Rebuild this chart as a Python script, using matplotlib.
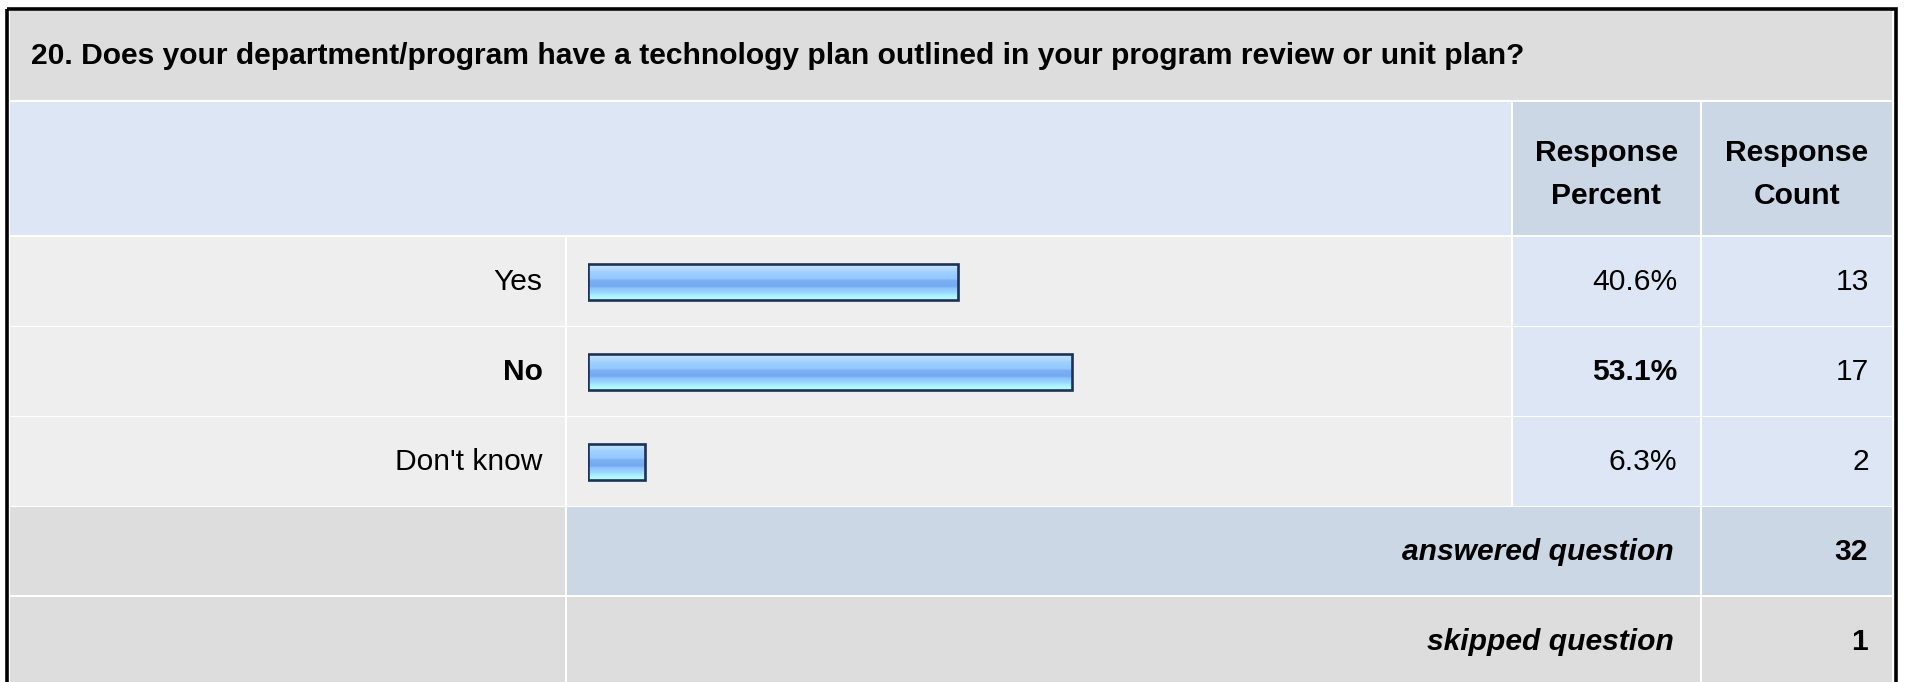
import numpy as np
import matplotlib
matplotlib.use("Agg")
import matplotlib.pyplot as plt
from matplotlib.patches import Rectangle
from matplotlib.colors import LinearSegmentedColormap

# ---------------- data ----------------
question = "20. Does your department/program have a technology plan outlined in your program review or unit plan?"
categories = ["Yes", "No", "Don't know"]
percents = [40.6, 53.1, 6.3]
counts = [13, 17, 2]
answered = 32
skipped = 1
header_pct = "Response\nPercent"
header_cnt = "Response\nCount"

# ---------------- layout (pixels) ----------------
W, H = 1907, 682
DPI = 100
FONT = "Liberation Sans"
FS = 21.6
FS_TITLE = 21.6

fig = plt.figure(figsize=(W / DPI, H / DPI), dpi=DPI)
ax = fig.add_axes([0, 0, 1, 1])
ax.set_xlim(0, W)
ax.set_ylim(H, 0)
ax.axis("off")

GREY = "#dddddd"
LIGHT = "#eeeeee"
BLUE = "#dce6f4"
BLUE2 = "#cbd7e5"

def cell(x0, x1, y0, y1, color):
    ax.add_patch(Rectangle((x0, y0), x1 - x0, y1 - y0, facecolor=color,
                           edgecolor="none", zorder=1))

# columns
L0, L1 = 10, 564.5
B0, B1 = 567, 1510.5
P0, P1 = 1513, 1699.5
C0, C1 = 1702, 1892
# rows
title_r = (11, 100)
head_r = (102, 235)
row_tops = [237, 327, 417]
row_h = 88.5
ans_r = (507, 595)
skip_r = (597, 690)

# outer border
ax.add_patch(Rectangle((7, 8.5), 1888.5, 700, facecolor="none",
                       edgecolor="black", linewidth=2.6, zorder=5))

cell(L0, C1, *title_r, GREY)
ax.text(31, sum(title_r) / 2 + 1, question, fontsize=FS_TITLE, fontweight="bold",
        family=FONT, ha="left", va="center", zorder=3)

cell(L0, B1, *head_r, BLUE)
cell(P0, P1, *head_r, BLUE2)
cell(C0, C1, *head_r, BLUE2)
for (x0, x1), txt in (((P0, P1), header_pct), ((C0, C1), header_cnt)):
    ax.text((x0 + x1) / 2, sum(head_r) / 2 + 6, txt, fontsize=FS, fontweight="bold",
            family=FONT, ha="center", va="center", linespacing=1.72, zorder=3)

imax = int(np.argmax(percents))
for i, (cat, p, c) in enumerate(zip(categories, percents, counts)):
    y0 = row_tops[i]
    y1 = y0 + row_h
    ym = (y0 + y1) / 2 + 1
    cell(L0, L1, y0, y1, LIGHT)
    cell(B0, B1, y0, y1, LIGHT)
    cell(P0, P1, y0, y1, BLUE)
    cell(C0, C1, y0, y1, BLUE)
    w = "bold" if i == imax else "normal"
    ax.text(L1 - 22, ym, cat, fontsize=FS, fontweight=w, family=FONT,
            ha="right", va="center", zorder=3)
    ax.text(P1 - 22, ym, f"{p:.1f}%", fontsize=FS, fontweight=w, family=FONT,
            ha="right", va="center", zorder=3)
    ax.text(C1 - 23, ym, f"{c}", fontsize=FS, family=FONT,
            ha="right", va="center", zorder=3)

cell(L0, L1, *ans_r, GREY)
cell(B0, P1, *ans_r, BLUE2)
cell(C0, C1, *ans_r, BLUE2)
ax.text(P1 - 26, sum(ans_r) / 2 + 1, "answered question", fontsize=FS, fontweight="bold",
        style="italic", family=FONT, ha="right", va="center", zorder=3)
ax.text(C1 - 24, sum(ans_r) / 2 + 1, f"{answered}", fontsize=FS, fontweight="bold",
        family=FONT, ha="right", va="center", zorder=3)

cell(L0, L1, *skip_r, GREY)
cell(B0, P1, *skip_r, GREY)
cell(C0, C1, *skip_r, GREY)
ax.text(P1 - 26, (skip_r[0] + 682) / 2 + 2, "skipped question", fontsize=FS, fontweight="bold",
        style="italic", family=FONT, ha="right", va="center", zorder=3)
ax.text(C1 - 24, (skip_r[0] + 682) / 2 + 2, f"{skipped}", fontsize=FS, fontweight="bold",
        family=FONT, ha="right", va="center", zorder=3)

# ---------------- bars on their own axes ----------------
bx0, bscale = 587.5, 913.0          # pixel of 0 %, pixels per 100 %
by0, by1 = 237, 237 + 3 * 90        # span of the three data rows
bax = fig.add_axes([bx0 / W, (H - by1) / H, bscale / W, (by1 - by0) / H])
bax.set_xlim(0, 100)
bax.set_ylim(len(categories) - 0.5, -0.5)
bax.axis("off")
bax.patch.set_alpha(0)

grad = LinearSegmentedColormap.from_list("bar", [
    (0.00, "#cde7ff"), (0.12, "#b4dbff"), (0.22, "#a0d0ff"), (0.40, "#94c8ff"),
    (0.45, "#7cb0f4"), (0.62, "#76aaf0"), (0.67, "#8cc2ff"), (0.80, "#9cd8ff"),
    (0.88, "#aaf0ff"), (1.00, "#b8ffff")])
gimg = np.linspace(0, 1, 64).reshape(-1, 1)
bh = 0.40
ypos = np.arange(len(categories))
bars = bax.barh(ypos, percents, height=bh, facecolor="none", edgecolor="#1d3254",
                linewidth=1.9, zorder=4)
for yb, p in zip(ypos, percents):
    bax.imshow(gimg, cmap=grad, aspect="auto", interpolation="bilinear",
               extent=(0, p, yb + bh / 2, yb - bh / 2), zorder=3)
bax.set_xlim(0, 100)
bax.set_ylim(len(categories) - 0.5, -0.5)

fig.savefig("out.png", dpi=DPI)
